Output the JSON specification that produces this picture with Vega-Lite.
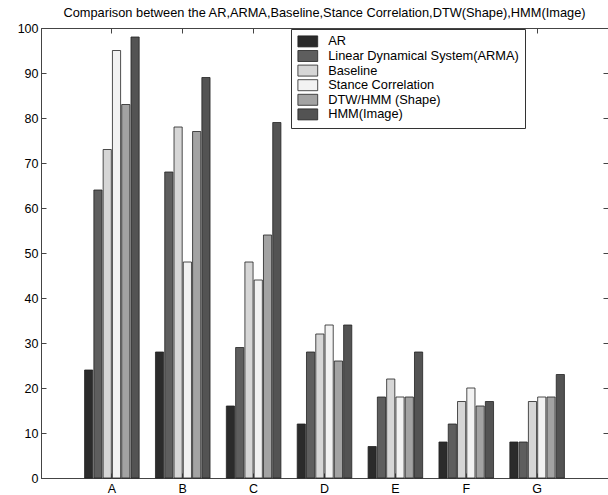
{
  "$schema": "https://vega.github.io/schema/vega-lite/v6.json",
  "width": 567,
  "height": 450,
  "autosize": {"type": "none"},
  "padding": {"left": 41, "top": 28, "right": 0, "bottom": 17},
  "background": "white",
  "config": {
    "font": "Liberation Sans",
    "view": {"stroke": "#444", "strokeWidth": 1},
    "axis": {"labelFont": "Liberation Sans", "labelFontSize": 12.5, "labelColor": "black", "domainColor": "#444", "tickColor": "#444", "grid": false, "title": null}
  },
  "title": {"text": "Comparison between the AR,ARMA,Baseline,Stance Correlation,DTW(Shape),HMM(Image)", "fontSize": 12.8, "fontWeight": "normal", "font": "Liberation Sans", "color": "black", "offset": 2, "anchor": "middle"},
  "data": {"values": [
    {"group": "A", "method": "AR", "value": 24},
    {"group": "A", "method": "Linear Dynamical System(ARMA)", "value": 64},
    {"group": "A", "method": "Baseline", "value": 73},
    {"group": "A", "method": "Stance Correlation", "value": 95},
    {"group": "A", "method": "DTW/HMM (Shape)", "value": 83},
    {"group": "A", "method": "HMM(Image)", "value": 98},
    {"group": "B", "method": "AR", "value": 28},
    {"group": "B", "method": "Linear Dynamical System(ARMA)", "value": 68},
    {"group": "B", "method": "Baseline", "value": 78},
    {"group": "B", "method": "Stance Correlation", "value": 48},
    {"group": "B", "method": "DTW/HMM (Shape)", "value": 77},
    {"group": "B", "method": "HMM(Image)", "value": 89},
    {"group": "C", "method": "AR", "value": 16},
    {"group": "C", "method": "Linear Dynamical System(ARMA)", "value": 29},
    {"group": "C", "method": "Baseline", "value": 48},
    {"group": "C", "method": "Stance Correlation", "value": 44},
    {"group": "C", "method": "DTW/HMM (Shape)", "value": 54},
    {"group": "C", "method": "HMM(Image)", "value": 79},
    {"group": "D", "method": "AR", "value": 12},
    {"group": "D", "method": "Linear Dynamical System(ARMA)", "value": 28},
    {"group": "D", "method": "Baseline", "value": 32},
    {"group": "D", "method": "Stance Correlation", "value": 34},
    {"group": "D", "method": "DTW/HMM (Shape)", "value": 26},
    {"group": "D", "method": "HMM(Image)", "value": 34},
    {"group": "E", "method": "AR", "value": 7},
    {"group": "E", "method": "Linear Dynamical System(ARMA)", "value": 18},
    {"group": "E", "method": "Baseline", "value": 22},
    {"group": "E", "method": "Stance Correlation", "value": 18},
    {"group": "E", "method": "DTW/HMM (Shape)", "value": 18},
    {"group": "E", "method": "HMM(Image)", "value": 28},
    {"group": "F", "method": "AR", "value": 8},
    {"group": "F", "method": "Linear Dynamical System(ARMA)", "value": 12},
    {"group": "F", "method": "Baseline", "value": 17},
    {"group": "F", "method": "Stance Correlation", "value": 20},
    {"group": "F", "method": "DTW/HMM (Shape)", "value": 16},
    {"group": "F", "method": "HMM(Image)", "value": 17},
    {"group": "G", "method": "AR", "value": 8},
    {"group": "G", "method": "Linear Dynamical System(ARMA)", "value": 8},
    {"group": "G", "method": "Baseline", "value": 17},
    {"group": "G", "method": "Stance Correlation", "value": 18},
    {"group": "G", "method": "DTW/HMM (Shape)", "value": 18},
    {"group": "G", "method": "HMM(Image)", "value": 23}
  ]},
  "layer": [
    {
      "mark": {"type": "bar", "stroke": "#222", "strokeWidth": 0.8},
      "encoding": {
        "x": {"field": "group", "type": "nominal", "scale": {"paddingInner": 0.23, "paddingOuter": 0.615},
              "axis": {"orient": "bottom", "labelAngle": 0, "tickSize": -5, "labelPadding": 9}},
        "xOffset": {"field": "method", "type": "nominal", "sort": ["AR", "Linear Dynamical System(ARMA)", "Baseline", "Stance Correlation", "DTW/HMM (Shape)", "HMM(Image)"], "scale": {"paddingInner": 0.12, "paddingOuter": 0}},
        "y": {"field": "value", "type": "quantitative", "scale": {"domain": [0, 100], "nice": false},
              "axis": {"orient": "left", "values": [0,10,20,30,40,50,60,70,80,90,100], "tickSize": -5, "labelPadding": 8}},
        "fill": {"field": "method", "type": "nominal",
                 "scale": {"domain": ["AR", "Linear Dynamical System(ARMA)", "Baseline", "Stance Correlation", "DTW/HMM (Shape)", "HMM(Image)"],
                           "range": ["#2b2b2b", "#5e5e5e", "#d6d6d6", "#f2f2f2", "#a3a3a3", "#535353"]},
                 "legend": {"title": null, "orient": "none", "legendX": 250, "legendY": 1,
                            "strokeColor": "#333", "fillColor": "white", "padding": 6,
                            "symbolType": "M-1.8,-1H1.8V1H-1.8Z", "symbolSize": 121, "symbolOffset": 4.4, "symbolStrokeColor": "#222", "symbolStrokeWidth": 0.8,
                            "labelFontSize": 12.8, "labelFont": "Liberation Sans", "labelColor": "black", "labelOffset": 14, "rowPadding": -0.4, "labelLimit": 300}}
      }
    },
    {
      "mark": {"type": "tick", "opacity": 0},
      "encoding": {
        "x": {"field": "group", "type": "nominal", "axis": {"orient": "top", "labels": false, "tickSize": -5, "domain": false}},
        "y": {"field": "value", "type": "quantitative", "axis": {"orient": "right", "labels": false, "tickSize": -5, "domain": false, "values": [0,10,20,30,40,50,60,70,80,90,100]}}
      }
    }
  ],
  "resolve": {"axis": {"x": "independent", "y": "independent"}}
}
